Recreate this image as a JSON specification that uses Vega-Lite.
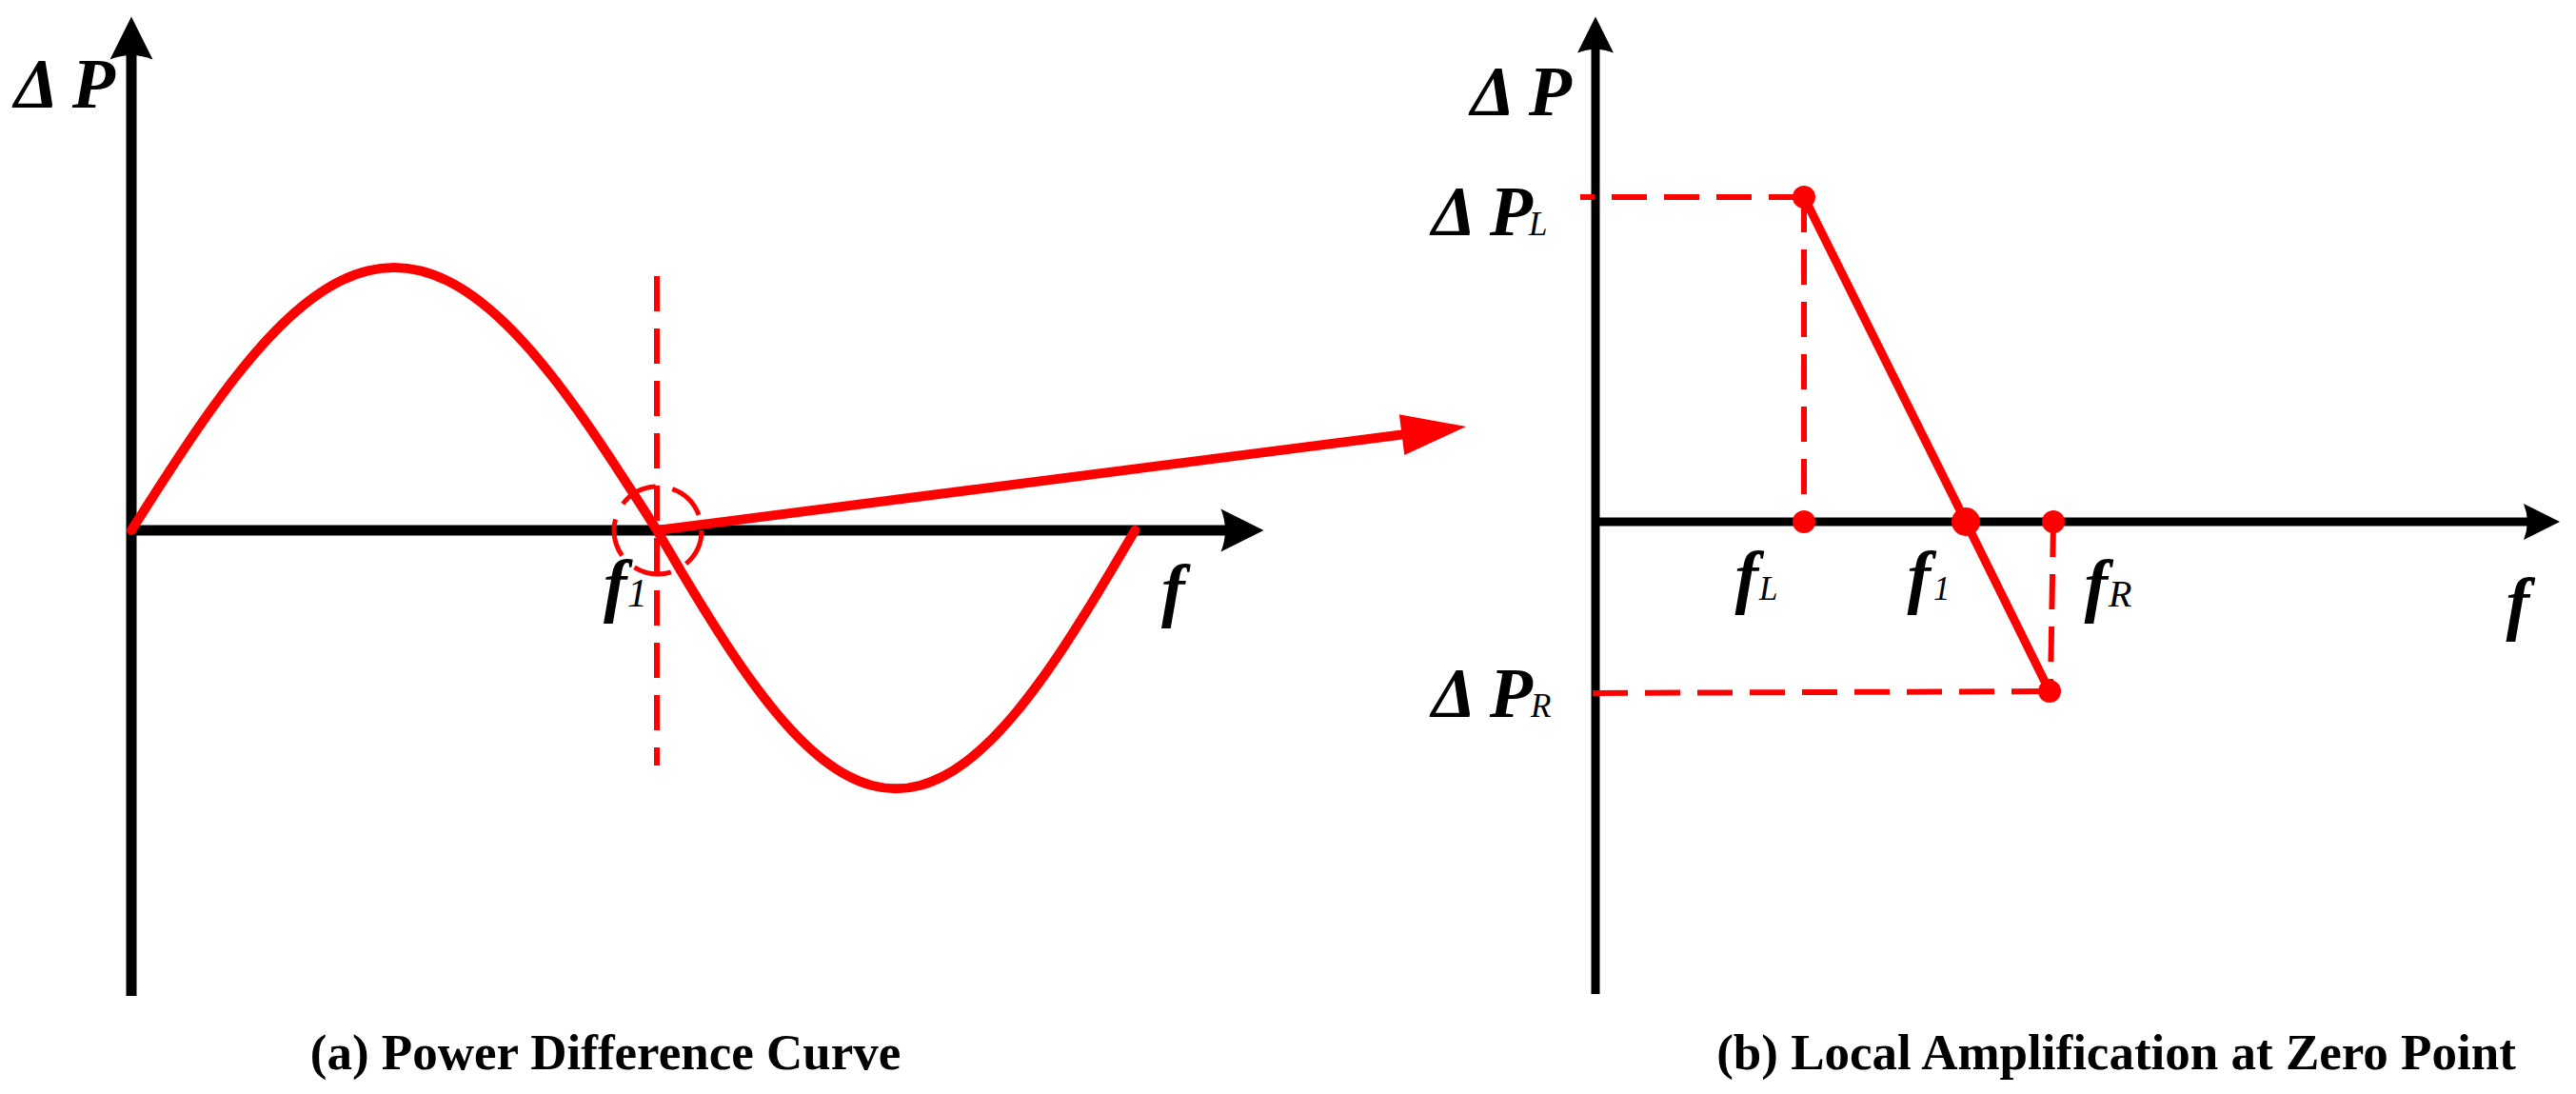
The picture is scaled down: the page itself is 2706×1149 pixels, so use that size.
{
  "$schema": "https://vega.github.io/schema/vega-lite/v6.json",
  "padding": 0,
  "background": "white",
  "spacing": 0,
  "bounds": "flush",
  "config": {"view": {"stroke": null}, "axis": {"disable": true}},
  "hconcat": [
    {
      "width": 1600,
      "height": 1149,
      "encoding": {
        "x": {"field": "f", "type": "quantitative", "scale": {"domain": [-0.25, 2.64855], "nice": false, "zero": false}, "axis": null},
        "y": {"field": "dp", "type": "quantitative", "scale": {"domain": [-2.14493, 2.01812], "nice": false, "zero": false}, "axis": null}
      },
      "layer": [
        {
          "data": {"values": [
            {"id": "y", "seq": 0, "f": 0, "dp": -1.7717},
            {"id": "y", "seq": 1, "f": 0, "dp": 1.837},
            {"id": "x", "seq": 0, "f": 0, "dp": 0},
            {"id": "x", "seq": 1, "f": 2.087, "dp": 0}
          ]},
          "mark": {"type": "line", "color": "#000000", "strokeWidth": 11, "strokeCap": "butt"},
          "encoding": {"detail": {"field": "id"}, "order": {"field": "seq"}}
        },
        {
          "data": {"values": [{"f": 0, "dp": 1.8732}]},
          "mark": {"type": "point", "shape": "M0,-1L1,1Q0,0.6,-1,1Z", "size": 2025, "filled": true, "color": "#000000", "opacity": 1, "angle": 0}
        },
        {
          "data": {"values": [{"f": 2.1141, "dp": 0}]},
          "mark": {"type": "point", "shape": "M0,-1L1,1Q0,0.6,-1,1Z", "size": 2025, "filled": true, "color": "#000000", "opacity": 1, "angle": 90}
        },
        {
          "data": {"values": [
            {"f": 0, "dp": 0}, {"f": 0.05, "dp": 0.1564}, {"f": 0.1, "dp": 0.309}, {"f": 0.15, "dp": 0.454},
            {"f": 0.2, "dp": 0.5878}, {"f": 0.25, "dp": 0.7071}, {"f": 0.3, "dp": 0.809}, {"f": 0.35, "dp": 0.891},
            {"f": 0.4, "dp": 0.9511}, {"f": 0.45, "dp": 0.9877}, {"f": 0.5, "dp": 1.0}, {"f": 0.55, "dp": 0.9877},
            {"f": 0.6, "dp": 0.9511}, {"f": 0.65, "dp": 0.891}, {"f": 0.7, "dp": 0.809}, {"f": 0.75, "dp": 0.7071},
            {"f": 0.8, "dp": 0.5878}, {"f": 0.85, "dp": 0.454}, {"f": 0.9, "dp": 0.309}, {"f": 0.95, "dp": 0.1564},
            {"f": 1.0, "dp": 0}, {"f": 1.0455, "dp": -0.1538}, {"f": 1.091, "dp": -0.3038}, {"f": 1.1365, "dp": -0.4463},
            {"f": 1.182, "dp": -0.5778}, {"f": 1.2275, "dp": -0.6951}, {"f": 1.273, "dp": -0.7953}, {"f": 1.3185, "dp": -0.8759},
            {"f": 1.364, "dp": -0.9349}, {"f": 1.4095, "dp": -0.9709}, {"f": 1.455, "dp": -0.983}, {"f": 1.5005, "dp": -0.9709},
            {"f": 1.546, "dp": -0.9349}, {"f": 1.5915, "dp": -0.8759}, {"f": 1.637, "dp": -0.7953}, {"f": 1.6825, "dp": -0.6951},
            {"f": 1.728, "dp": -0.5778}, {"f": 1.7735, "dp": -0.4463}, {"f": 1.819, "dp": -0.3038}, {"f": 1.8645, "dp": -0.1538},
            {"f": 1.91, "dp": 0}
          ]},
          "mark": {"type": "line", "color": "#ff0000", "strokeWidth": 10, "strokeCap": "round", "strokeJoin": "round", "interpolate": "monotone"}
        },
        {
          "data": {"values": [
            {"seq": 0, "f": 1.0, "dp": 0.9674},
            {"seq": 1, "f": 1.0, "dp": -0.8949}
          ]},
          "mark": {"type": "line", "color": "#ff0000", "strokeWidth": 6, "strokeDash": [37, 18], "strokeCap": "butt"},
          "encoding": {"order": {"field": "seq"}}
        },
        {
          "data": {"values": [{"f": 1.0018, "dp": 0}]},
          "mark": {"type": "point", "shape": "circle", "size": 8464, "filled": false, "color": "#ff0000", "strokeWidth": 5, "strokeDash": [40, 18], "opacity": 1}
        },
        {
          "data": {"values": [
            {"seq": 0, "f": 1.0, "dp": 0},
            {"seq": 1, "f": 2.4357, "dp": 0.3685}
          ]},
          "mark": {"type": "line", "color": "#ff0000", "strokeWidth": 10, "strokeCap": "butt"},
          "encoding": {"order": {"field": "seq"}}
        },
        {
          "data": {"values": [{"f": 2.4788, "dp": 0.3793}]},
          "mark": {"type": "point", "shape": "M0,-1L0.632,1L-0.632,1Z", "size": 4624, "filled": true, "color": "#ff0000", "opacity": 1, "angle": 82.69}
        },
        {
          "data": {"values": [{"f": -0.0308, "dp": 1.6087, "label": "Δ P"}]},
          "mark": {"type": "text", "align": "right", "baseline": "alphabetic", "font": "Liberation Serif", "fontStyle": "italic", "fontWeight": "bold", "fontSize": 74, "color": "#000000"},
          "encoding": {"text": {"field": "label"}}
        },
        {
          "data": {"values": [
            {"f": 1.9601, "dp": -0.3152, "label": "f"},
            {"f": 0.8986, "dp": -0.2971, "label": "f"}
          ]},
          "mark": {"type": "text", "align": "left", "baseline": "alphabetic", "font": "Liberation Serif", "fontStyle": "italic", "fontWeight": "bold", "fontSize": 74, "color": "#000000"},
          "encoding": {"text": {"field": "label"}}
        },
        {
          "data": {"values": [{"f": 0.944, "dp": -0.2899, "label": "1"}]},
          "mark": {"type": "text", "align": "left", "baseline": "alphabetic", "font": "Liberation Serif", "fontStyle": "italic", "fontWeight": "normal", "fontSize": 42, "color": "#000000"},
          "encoding": {"text": {"field": "label"}}
        },
        {
          "data": {"values": [{"f": 0.9022, "dp": -2.0507, "label": "(a) Power Difference Curve"}]},
          "mark": {"type": "text", "align": "center", "baseline": "alphabetic", "font": "Liberation Serif", "fontWeight": "bold", "fontSize": 53, "color": "#000000"},
          "encoding": {"text": {"field": "label"}}
        }
      ]
    },
    {
      "width": 1106,
      "height": 1149,
      "encoding": {
        "x": {"field": "f", "type": "quantitative", "scale": {"domain": [-0.76, 10.3], "nice": false, "zero": false}, "axis": null},
        "y": {"field": "dp", "type": "quantitative", "scale": {"domain": [-6.01, 5.48], "nice": false, "zero": false}, "axis": null}
      },
      "layer": [
        {
          "data": {"values": [
            {"id": "y", "seq": 0, "f": 0, "dp": -4.96},
            {"id": "y", "seq": 1, "f": 0, "dp": 5.03},
            {"id": "x", "seq": 0, "f": 0, "dp": 0},
            {"id": "x", "seq": 1, "f": 9.84, "dp": 0}
          ]},
          "mark": {"type": "line", "color": "#000000", "strokeWidth": 9, "strokeCap": "butt"},
          "encoding": {"detail": {"field": "id"}, "order": {"field": "seq"}}
        },
        {
          "data": {"values": [{"f": 0, "dp": 5.115}]},
          "mark": {"type": "point", "shape": "M0,-1L1,1Q0,0.6,-1,1Z", "size": 1444, "filled": true, "color": "#000000", "opacity": 1, "angle": 0}
        },
        {
          "data": {"values": [{"f": 9.94, "dp": 0}]},
          "mark": {"type": "point", "shape": "M0,-1L1,1Q0,0.6,-1,1Z", "size": 1444, "filled": true, "color": "#000000", "opacity": 1, "angle": 90}
        },
        {
          "data": {"values": [
            {"id": "t", "seq": 0, "f": 2.19, "dp": 3.41},
            {"id": "t", "seq": 1, "f": -0.16, "dp": 3.41},
            {"id": "l", "seq": 0, "f": 2.19, "dp": 3.41},
            {"id": "l", "seq": 1, "f": 2.19, "dp": 0},
            {"id": "b", "seq": 0, "f": -0.03, "dp": -1.8},
            {"id": "b", "seq": 1, "f": 4.77, "dp": -1.78},
            {"id": "r", "seq": 0, "f": 4.81, "dp": 0},
            {"id": "r", "seq": 1, "f": 4.78, "dp": -1.72}
          ]},
          "mark": {"type": "line", "color": "#ff0000", "strokeWidth": 6, "strokeDash": [37, 18], "strokeCap": "butt"},
          "encoding": {"detail": {"field": "id"}, "order": {"field": "seq"}}
        },
        {
          "data": {"values": [
            {"seq": 0, "f": 2.19, "dp": 3.41},
            {"seq": 1, "f": 3.89, "dp": 0},
            {"seq": 2, "f": 4.77, "dp": -1.78}
          ]},
          "mark": {"type": "line", "color": "#ff0000", "strokeWidth": 9, "strokeCap": "round"},
          "encoding": {"order": {"field": "seq"}}
        },
        {
          "data": {"values": [
            {"f": 2.19, "dp": 3.41}, {"f": 2.19, "dp": 0}, {"f": 4.81, "dp": 0}, {"f": 4.77, "dp": -1.78}
          ]},
          "mark": {"type": "point", "shape": "circle", "size": 576, "filled": true, "color": "#ff0000", "opacity": 1}
        },
        {
          "data": {"values": [{"f": 3.89, "dp": 0}]},
          "mark": {"type": "point", "shape": "circle", "size": 900, "filled": true, "color": "#ff0000", "opacity": 1}
        },
        {
          "data": {"values": [
            {"f": -0.25, "dp": 4.27, "label": "Δ P"},
            {"f": -0.66, "dp": 3.01, "label": "Δ P"},
            {"f": -0.66, "dp": -2.05, "label": "Δ P"}
          ]},
          "mark": {"type": "text", "align": "right", "baseline": "alphabetic", "font": "Liberation Serif", "fontStyle": "italic", "fontWeight": "bold", "fontSize": 74, "color": "#000000"},
          "encoding": {"text": {"field": "label"}}
        },
        {
          "data": {"values": [
            {"f": 1.465, "dp": -0.82, "label": "f"},
            {"f": 3.275, "dp": -0.82, "label": "f"},
            {"f": 5.135, "dp": -0.91, "label": "f"},
            {"f": 9.565, "dp": -1.1, "label": "f"}
          ]},
          "mark": {"type": "text", "align": "left", "baseline": "alphabetic", "font": "Liberation Serif", "fontStyle": "italic", "fontWeight": "bold", "fontSize": 74, "color": "#000000"},
          "encoding": {"text": {"field": "label"}}
        },
        {
          "data": {"values": [
            {"f": -0.7, "dp": 3.01, "label": "L"},
            {"f": -0.68, "dp": -2.05, "label": "R"},
            {"f": 1.72, "dp": -0.82, "label": "L"},
            {"f": 3.55, "dp": -0.82, "label": "1"}
          ]},
          "mark": {"type": "text", "align": "left", "baseline": "alphabetic", "font": "Liberation Serif", "fontStyle": "italic", "fontWeight": "normal", "fontSize": 35, "color": "#000000"},
          "encoding": {"text": {"field": "label"}}
        },
        {
          "data": {"values": [{"f": 5.39, "dp": -0.89, "label": "R"}]},
          "mark": {"type": "text", "align": "left", "baseline": "alphabetic", "font": "Liberation Serif", "fontStyle": "italic", "fontWeight": "normal", "fontSize": 40, "color": "#000000"},
          "encoding": {"text": {"field": "label"}}
        },
        {
          "data": {"values": [{"f": 5.47, "dp": -5.75, "label": "(b) Local Amplification at Zero Point"}]},
          "mark": {"type": "text", "align": "center", "baseline": "alphabetic", "font": "Liberation Serif", "fontWeight": "bold", "fontSize": 53, "color": "#000000"},
          "encoding": {"text": {"field": "label"}}
        }
      ]
    }
  ]
}
